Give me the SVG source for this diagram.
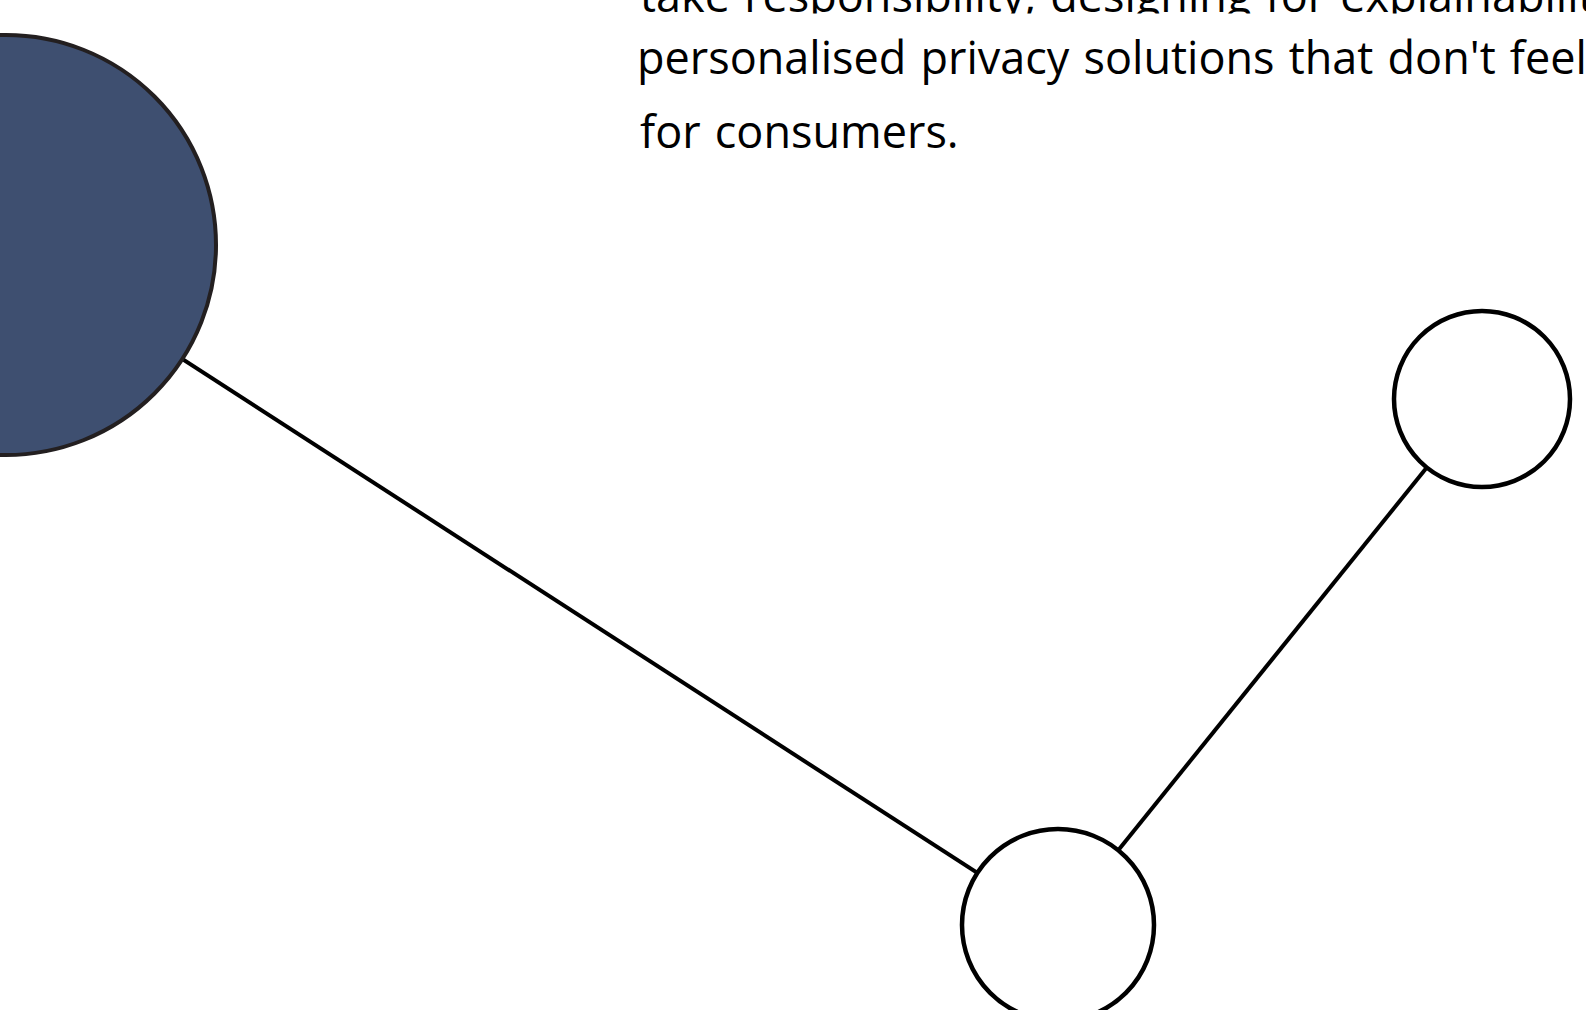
<svg xmlns="http://www.w3.org/2000/svg" width="1586" height="1010" viewBox="0 0 1586 1010">
  <style>
    .body { font-family: "Open Sans", "Noto Sans", sans-serif; font-size: 45px; font-weight: 380; word-spacing: 2.5px; fill: #000; }
    .link { stroke: #000; stroke-width: 4; fill: none; }
    .hollow { fill: #fff; stroke: #000; stroke-width: 4.5; }
    .hub { fill: #3e4f70; stroke: #231f20; stroke-width: 4; }
  </style>
  <defs>
    <clipPath id="topLineClip">
      <rect x="0" y="-100" width="1586" height="113.5"/>
    </clipPath>
  </defs>
  <rect width="1586" height="1010" fill="#fff"/>

  <!-- paragraph text -->
  <g id="caption">
    <text class="body" x="640" y="12.3" clip-path="url(#topLineClip)">take responsibility, designing for explainability</text>
    <text class="body" x="637" y="74">personalised privacy solutions that don't feel</text>
    <text class="body" x="640" y="148.3">for consumers.</text>
  </g>

  <!-- connectors, centre to centre, underneath the nodes -->
  <g id="connectors">
    <line class="link" x1="6" y1="245" x2="1058" y2="925"/>
    <line class="link" x1="1058" y1="925" x2="1482" y2="399"/>
  </g>

  <g id="node-hub">
    <circle class="hub" cx="6" cy="245" r="210"/>
  </g>
  <g id="node-bottom">
    <circle class="hollow" cx="1058" cy="925" r="96"/>
  </g>
  <g id="node-right">
    <circle class="hollow" cx="1482" cy="399" r="88"/>
  </g>
</svg>
